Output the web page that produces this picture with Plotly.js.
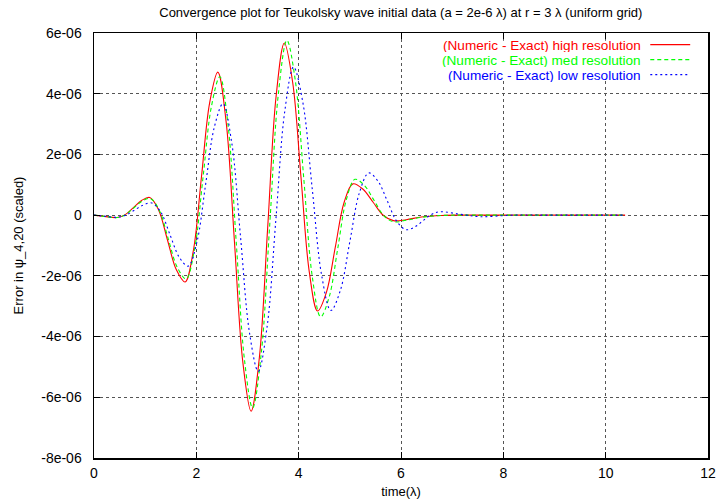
<!DOCTYPE html>
<html>
<head>
<meta charset="utf-8">
<script src="https://cdn.plot.ly/plotly-3.0.1.min.js"></script>
<style>html,body{margin:0;padding:0;background:#fff}#chart{width:719px;height:503px}</style>
</head>
<body>
<div id="chart"></div>
<script>
// time values (λ) and errors (scaled, ×1e-6)
const tHigh = [0,0.2,0.45,0.61,0.77,0.93,1.09,1.2625,1.435,1.6075,1.78,1.94,2.10,2.26,2.42,2.5825,2.745,2.9075,3.07,3.2325,3.395,3.5575,3.72,3.8825,4.045,4.2075,4.37,4.5425,4.715,4.8875,5.06,5.2575,5.455,5.6525,5.85,6.1,6.4,6.8,7.2,8,9,10,10.38];
const eHigh = [0,-0.04,-0.08,0.017,0.25,0.483,0.58,0.173,-0.81,-1.793,-2.2,-1.188,1.255,3.698,4.71,3.074,-0.875,-4.824,-6.46,-4.683,-0.395,3.893,5.67,4.377,1.255,-1.867,-3.16,-2.546,-1.065,0.416,1.03,0.853,0.425,-0.003,-0.18,-0.15,-0.06,-0.01,0,0,0,0,0];

const tMed = [0,0.2,0.45,0.6125,0.775,0.9375,1.10,1.275,1.45,1.625,1.80,1.965,2.13,2.295,2.46,2.62,2.78,2.94,3.10,3.2675,3.435,3.6025,3.77,3.935,4.10,4.265,4.43,4.5975,4.765,4.9325,5.10,5.2875,5.475,5.6625,5.85,6.1,6.4,6.8,7.2,8,9,10,10.38];
const eMed = [0,-0.04,-0.08,0.012,0.235,0.458,0.55,0.162,-0.775,-1.712,-2.10,-1.124,1.23,3.584,4.56,2.962,-0.895,-4.752,-6.35,-4.576,-0.295,3.986,5.76,4.425,1.205,-2.015,-3.35,-2.686,-1.085,0.516,1.18,0.975,0.48,-0.015,-0.22,-0.17,-0.07,-0.01,0,0,0,0,0];

const tLow = [0,0.2,0.45,0.62,0.79,0.96,1.13,1.3075,1.485,1.6625,1.84,2.01,2.18,2.35,2.52,2.6925,2.865,3.0375,3.21,3.3825,3.555,3.7275,3.90,4.0825,4.265,4.4475,4.63,4.815,5.0,5.185,5.37,5.5525,5.735,5.9175,6.10,6.265,6.43,6.595,6.76,7.15,7.54,8.2,9,10,10.38];
const eLow = [0,-0.035,-0.07,-0.001,0.165,0.331,0.40,0.095,-0.64,-1.375,-1.68,-0.896,0.995,2.886,3.67,2.378,-0.74,-3.858,-5.15,-3.681,-0.135,3.411,4.88,3.705,0.87,-1.965,-3.14,-2.476,-0.875,0.726,1.39,1.116,0.455,-0.206,-0.48,-0.394,-0.185,0.024,0.11,0.03,-0.05,0,0,0,0];

const seriesNames = ['(Numeric - Exact) high resolution','(Numeric - Exact) med resolution','(Numeric - Exact) low resolution'];
const yTickVals = [-8e-6,-6e-6,-4e-6,-2e-6,0,2e-6,4e-6,6e-6];
const yTickText = ['-8e-06','-6e-06','-4e-06','-2e-06','0','2e-06','4e-06','6e-06'];
const xTickVals = [0,2,4,6,8,10,12];

const scale = v => v.map(e => e * 1e-6);
const colors = ['#ff0000','#00ff00','#0000ff'];
const dashes = ['solid','4px,3px','2px,3px'];
const FONT = 'Liberation Sans, Arial, sans-serif';

const traces = [
  {x: tHigh, y: scale(eHigh)},
  {x: tMed, y: scale(eMed)},
  {x: tLow, y: scale(eLow)}
].map((tr, i) => Object.assign(tr, {
  type: 'scatter', mode: 'lines', name: seriesNames[i], showlegend: false,
  line: {color: colors[i], width: 1.1, dash: dashes[i], shape: 'spline', smoothing: 1}
}));

// Legend drawn gnuplot-style: opaque box, text right-aligned, sample line on the right
const annotations = [];
const shapes = [{type: 'rect', xref: 'paper', yref: 'paper', x0: 0.539, x1: 0.994, y0: 0.889, y1: 0.982,
  fillcolor: '#ffffff', line: {width: 0}, layer: 'above'}];
const rowY = [0.9727, 0.9374, 0.9021];
seriesNames.forEach((n, i) => {
  annotations.push({xref: 'paper', yref: 'paper', x: 0.8925, y: rowY[i], xanchor: 'right', yanchor: 'middle',
    text: n, showarrow: false, borderpad: 0, height: 14, valign: 'middle',
    font: {family: FONT, size: 13.6, color: colors[i]}});
  shapes.push({type: 'line', xref: 'paper', yref: 'paper', x0: 0.906, x1: 0.971, y0: rowY[i], y1: rowY[i],
    line: {color: colors[i], width: 1.2, dash: dashes[i]}, layer: 'above'});
});

const axisCommon = {
  showline: true, linecolor: '#000', linewidth: 1.5, mirror: 'allticks',
  ticks: 'inside', ticklen: 6, tickcolor: '#000', tickwidth: 1,
  showgrid: true, gridcolor: '#555', griddash: 'dot', gridwidth: 1,
  zeroline: false, tickfont: {family: FONT, size: 14, color: '#000'}
};

const layout = {
  width: 719, height: 503,
  margin: {l: 94, r: 11, t: 33, b: 45},
  paper_bgcolor: '#fff', plot_bgcolor: '#fff',
  font: {family: FONT, size: 13, color: '#000'},
  title: {text: 'Convergence plot for Teukolsky wave initial data (a = 2e-6 λ) at r = 3 λ (uniform grid)',
    x: 0.5575, xanchor: 'center', y: 0.975, yanchor: 'middle', font: {size: 13}},
  xaxis: Object.assign({}, axisCommon, {range: [0, 12], tickvals: xTickVals, ticktext: xTickVals.map(String),
    ticklabelstandoff: 2, title: {text: 'time(λ)', standoff: 6, font: {size: 13}}}),
  yaxis: Object.assign({}, axisCommon, {range: [-8e-6, 6e-6], tickvals: yTickVals, ticktext: yTickText,
    ticklabelstandoff: 8, title: {text: 'Error in ψ_4,20 (scaled)', standoff: 14, font: {size: 13}}}),
  annotations: annotations,
  shapes: shapes,
  showlegend: false
};

Plotly.newPlot('chart', traces, layout, {displayModeBar: false, staticPlot: true});
</script>
</body>
</html>
